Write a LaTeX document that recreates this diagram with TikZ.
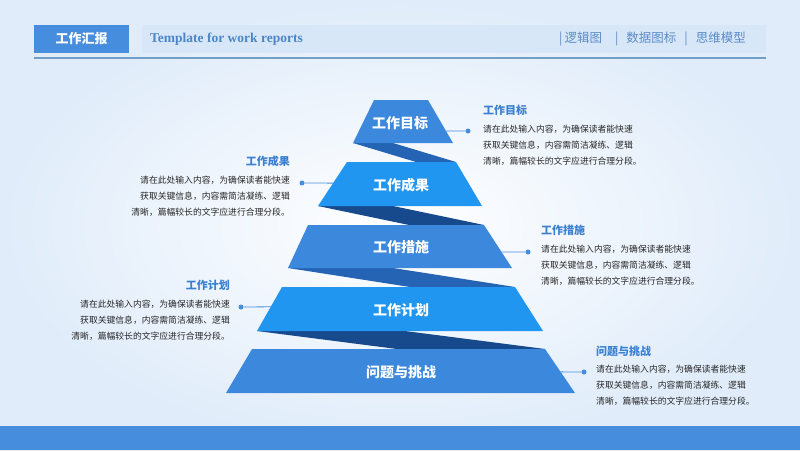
\documentclass[tikz,border=0pt]{standalone}
\usepackage{fontspec}
\setmainfont{Liberation Serif}
\newfontfamily\cjk{Noto Sans CJK SC}
\usepackage{tikz}
\usetikzlibrary{calc,positioning}
\definecolor{barblue}{RGB}{70,141,222}
\definecolor{bandblue}{RGB}{216,231,248}
\definecolor{rulesteel}{RGB}{112,160,196}
\definecolor{headtext}{RGB}{74,134,200}
\definecolor{menutext}{RGB}{92,140,200}
\definecolor{layermid}{RGB}{60,136,220}
\definecolor{layerbright}{RGB}{32,150,240}
\definecolor{foldmid}{RGB}{37,100,180}
\definecolor{folddark}{RGB}{22,74,140}
\definecolor{bgblue}{RGB}{224,236,250}
\definecolor{bodygray}{RGB}{40,40,40}
\definecolor{titleblue}{RGB}{58,127,208}
\tikzset{
	layerlabel/.style={
		text=white,
		inner sep=0pt,
		font=\cjk\bfseries\fontsize{14}{14}\selectfont
	},
	notetitle/.style={
		text=titleblue,
		inner sep=0pt,
		font=\cjk\bfseries\fontsize{11}{11}\selectfont
	},
	notebody/.style={
		text=bodygray,
		inner sep=0pt,
		font=\cjk\fontsize{8.8}{16}\selectfont
	},
	dot/.style={
		circle,
		fill=barblue,
		inner sep=0pt,
		minimum size=5pt
	},
	conn/.style={
		barblue,
		line width=0.8pt
	}
}

\begin{document}
\begin{tikzpicture}[x=1pt,y=-1pt]
	
	% Background
	\shade[inner color=white,outer color=bgblue] (0,0) rectangle (800,450);
	\path[use as bounding box] (0,0) rectangle (800,450);
	\fill[barblue] (0,426) rectangle (800,450);
	
	% Header
	\node[fill=barblue,minimum width=95pt,minimum height=28pt,inner sep=0pt,text=white,font=\cjk\bfseries\fontsize{13}{13}\selectfont] (head) at (81.5,39) {工作汇报};
	\node[fill=bandblue,minimum width=624pt,minimum height=28pt,inner sep=0pt,anchor=west] (band) at (142,39) {};
	\node[anchor=west,inner sep=0pt,text=headtext,font=\bfseries\fontsize{13.5}{13.5}\selectfont] (subtitle) at (150,39) {Template for work reports};
	\node[anchor=east,inner sep=0pt,text=menutext,font=\cjk\fontsize{12.5}{12.5}\selectfont] (menu) at (746,39) {|\hspace{2pt}逻辑图\hspace{13pt}|\hspace{8pt}数据图标\hspace{8pt}|\hspace{8pt}思维模型};
	\draw[rulesteel,line width=2pt] (34,58) -- (766,58);
	
	% Layer corners
	\coordinate (L1tl) at (374,100); \coordinate (L1tr) at (428,100);
	\coordinate (L1br) at (453,143); \coordinate (L1bl) at (353,143);
	\coordinate (L2tl) at (347,162); \coordinate (L2tr) at (456,162);
	\coordinate (L2br) at (482,206); \coordinate (L2bl) at (318,206);
	\coordinate (L3tl) at (308,225); \coordinate (L3tr) at (484,225);
	\coordinate (L3br) at (512,268); \coordinate (L3bl) at (288,268);
	\coordinate (L4tl) at (282,287); \coordinate (L4tr) at (515,287);
	\coordinate (L4br) at (543,331); \coordinate (L4bl) at (257,331);
	\coordinate (L5tl) at (252,349); \coordinate (L5tr) at (545,349);
	\coordinate (L5br) at (575,393); \coordinate (L5bl) at (226,393);
	
	% Folds between layers
	\coordinate (F1) at (393,143);
	\coordinate (F2) at (393,206);
	\coordinate (F3) at (393,268);
	\coordinate (F4) at (405,331);
	\fill[foldmid] (L1bl) -- (F1) -- (L2tr) -- ($(L1bl)+(L2tr)-(F1)$) -- cycle;
	\fill[folddark] (L2bl) -- (F2) -- (L3tr) -- ($(L2bl)+(L3tr)-(F2)$) -- cycle;
	\fill[foldmid] (L3bl) -- (F3) -- (L4tr) -- ($(L3bl)+(L4tr)-(F3)$) -- cycle;
	\fill[folddark] (L4bl) -- (F4) -- (L5tr) -- ($(L4bl)+(L5tr)-(F4)$) -- cycle;
	
	% Layers
	\fill[layermid] (L1tl) -- (L1tr) -- (L1br) -- (L1bl) -- cycle;
	\fill[layerbright] (L2tl) -- (L2tr) -- (L2br) -- (L2bl) -- cycle;
	\fill[layermid] (L3tl) -- (L3tr) -- (L3br) -- (L3bl) -- cycle;
	\fill[layerbright] (L4tl) -- (L4tr) -- (L4br) -- (L4bl) -- cycle;
	\fill[layermid] (L5tl) -- (L5tr) -- (L5br) -- (L5bl) -- cycle;
	
	\node[layerlabel] (goal) at (400,123) {工作目标};
	\node[layerlabel] (result) at (401,185) {工作成果};
	\node[layerlabel] (measure) at (401,247) {工作措施};
	\node[layerlabel] (plan) at (401,310) {工作计划};
	\node[layerlabel] (issue) at (401,372) {问题与挑战};
	
	% Notes
	\node[notetitle,anchor=west] (goalT) at (483,110) {工作目标};
	\node[notebody,anchor=north west,align=left] (goalB) at (483,124.5) {请在此处输入内容，为确保读者能快速\\获取关键信息，内容需简洁凝练、逻辑\\清晰，篇幅较长的文字应进行合理分段。};
	\node[notetitle,anchor=east] (resultT) at (290,161) {工作成果};
	\node[notebody,anchor=north east,align=right] (resultB) at (290,175.5) {请在此处输入内容，为确保读者能快速\\获取关键信息，内容需简洁凝练、逻辑\\清晰，篇幅较长的文字应进行合理分段。};
	\node[notetitle,anchor=west] (measureT) at (541,230) {工作措施};
	\node[notebody,anchor=north west,align=left] (measureB) at (541,244.5) {请在此处输入内容，为确保读者能快速\\获取关键信息，内容需简洁凝练、逻辑\\清晰，篇幅较长的文字应进行合理分段。};
	\node[notetitle,anchor=east] (planT) at (230,285) {工作计划};
	\node[notebody,anchor=north east,align=right] (planB) at (230,299.5) {请在此处输入内容，为确保读者能快速\\获取关键信息，内容需简洁凝练、逻辑\\清晰，篇幅较长的文字应进行合理分段。};
	\node[notetitle,anchor=west] (issueT) at (596,351) {问题与挑战};
	\node[notebody,anchor=north west,align=left] (issueB) at (596,364.5) {请在此处输入内容，为确保读者能快速\\获取关键信息，内容需简洁凝练、逻辑\\清晰，篇幅较长的文字应进行合理分段。};
	
	% Connectors
	\coordinate (e1) at ($(L1tr)!0.72!(L1br)$);
	\coordinate (e2) at ($(L2tl)!0.48!(L2bl)$);
	\coordinate (e3) at ($(L3tr)!0.63!(L3br)$);
	\coordinate (e4) at ($(L4tl)!0.45!(L4bl)$);
	\coordinate (e5) at ($(L5tr)!0.52!(L5br)$);
	\node[dot] (d1) at (468,131) {};
	\node[dot] (d2) at (302,183) {};
	\node[dot] (d3) at (528,252) {};
	\node[dot] (d4) at (241,307) {};
	\node[dot] (d5) at (584,372) {};
	\draw[conn] (e1) -- (d1);
	\draw[conn] (e2) -- (d2);
	\draw[conn] (e3) -- (d3);
	\draw[conn] (e4) -- (d4);
	\draw[conn] (e5) -- (d5);
	
\end{tikzpicture}
\end{document}
